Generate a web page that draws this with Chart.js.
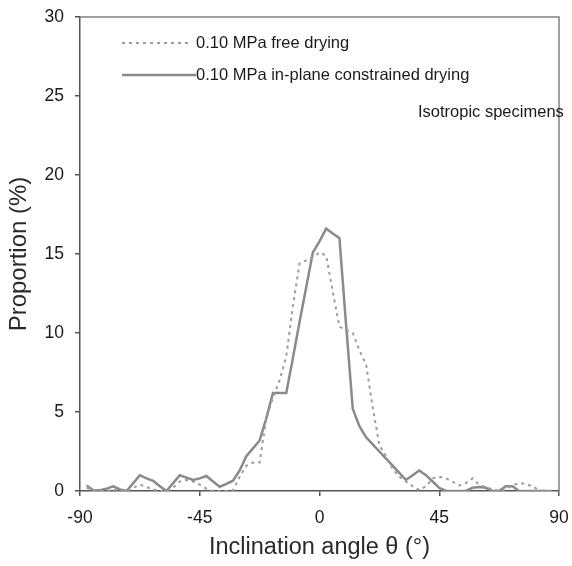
<!DOCTYPE html>
<html>
<head>
<meta charset="utf-8">
<script src="https://cdn.jsdelivr.net/npm/chart.js@4.4.0/dist/chart.umd.min.js"></script>
<style>
  html, body { margin: 0; padding: 0; background: #fff; }
  #wrap { width: 572px; height: 566px; }
</style>
</head>
<body>
<div id="wrap"><canvas id="chart" width="572" height="566"></canvas></div>
<script>
// Inclination angle bins (deg)
const angles = [
  -87.5, -85, -82.5, -80, -77.5, -75, -72.5, -70, -67.5, -65, -62.5, -60,
  -57.5, -55, -52.5, -50, -47.5, -45, -42.5, -40, -37.5, -35, -32.5, -30,
  -27.5, -25, -22.5, -20, -17.5, -15, -12.5, -10, -7.5, -5, -2.5, 0,
  2.5, 5, 7.5, 10, 12.5, 15, 17.5, 20, 22.5, 25, 27.5, 30,
  32.5, 35, 37.5, 40, 42.5, 45, 47.5, 50, 52.5, 55, 57.5, 60,
  62.5, 65, 67.5, 70, 72.5, 75, 77.5, 80, 82.5, 85, 87.5
];

// 0.10 MPa free drying (dotted)
const freeDrying = [
  0.2, 0.05, 0, 0, 0.1, 0, 0, 0.2, 0.4, 0.25, 0.1, 0,
  0, 0.2, 0.6, 0.7, 0.6, 0.4, 0.15, 0, 0, 0, 0.05, 0.9,
  1.6, 1.8, 1.8, 4.6, 5.9, 7.0, 8.5, 11.7, 14.4, 14.6, 14.8, 15.1,
  14.9, 12.6, 10.4, 10.2, 10.0, 8.9, 8.0, 5.3, 2.9, 2.2, 1.4, 0.9,
  0.6, 0.3, 0.05, 0.3, 0.8, 0.9, 0.8, 0.6, 0.35, 0.5, 0.8, 0.4,
  0.25, 0.1, 0, 0.1, 0.35, 0.5, 0.45, 0.3, 0.05, 0, 0
];

// 0.10 MPa in-plane constrained drying (solid)
const constrainedDrying = [
  0.35, 0.05, 0.05, 0.15, 0.3, 0.1, 0, 0.5, 1.0, 0.8, 0.65, 0.3,
  0, 0.5, 1.0, 0.85, 0.7, 0.8, 0.95, 0.6, 0.27, 0.45, 0.65, 1.3,
  2.2, 2.7, 3.2, 4.6, 6.2, 6.2, 6.2, 8.4, 10.7, 12.9, 15.1, 15.8,
  16.6, 16.3, 16.0, 10.5, 5.2, 4.1, 3.4, 2.95, 2.5, 2.05, 1.6, 1.15,
  0.7, 1.0, 1.3, 1.0, 0.6, 0.2, 0, 0, 0, 0, 0.2, 0.25,
  0.2, 0, 0, 0.3, 0.3, 0, 0, 0, 0, 0, 0
];

const xTicks = [-90, -45, 0, 45, 90];
const seriesLabels = ['0.10 MPa free drying', '0.10 MPa in-plane constrained drying'];
const noteText = 'Isotropic specimens';

const FONT = "'Liberation Sans', Arial, sans-serif";
const LINE_GRAY = '#8a8a8a';
const DOT_GRAY = '#9c9c9c';

function toPoints(values) {
  return angles.map((a, i) => ({ x: a, y: values[i] }));
}

// keep tick labels from pushing the plot area inwards
function noScalePadding(scale) {
  scale.paddingLeft = 0;
  scale.paddingRight = 0;
  scale.paddingTop = 0;
  scale.paddingBottom = 0;
}

// frame, in-plot legend and note
const extrasPlugin = {
  id: 'extras',
  afterDraw(chart) {
    const ctx = chart.ctx;
    const area = chart.chartArea;
    ctx.save();
    ctx.strokeStyle = '#808080';
    ctx.lineWidth = 1.5;
    ctx.beginPath();
    ctx.moveTo(area.left, area.top);
    ctx.lineTo(area.right, area.top);
    ctx.lineTo(area.right, area.bottom);
    ctx.stroke();

    const ds = chart.data.datasets;
    const rows = [43, 75];
    ctx.font = '16.5px ' + FONT;
    ctx.fillStyle = '#1a1a1a';
    ctx.textBaseline = 'middle';
    ds.forEach((d, i) => {
      ctx.beginPath();
      ctx.strokeStyle = d.borderColor;
      ctx.lineWidth = d.borderWidth;
      ctx.setLineDash(d.borderDash || []);
      ctx.moveTo(122, rows[i]);
      ctx.lineTo(i === 0 ? 190 : 196, rows[i]);
      ctx.stroke();
      ctx.setLineDash([]);
      ctx.fillText(d.label, 196, rows[i]);
    });
    ctx.fillText(noteText, 418, 112);
    ctx.restore();
  }
};

new Chart(document.getElementById('chart'), {
  type: 'line',
  data: {
    datasets: [
      {
        label: seriesLabels[0],
        data: toPoints(freeDrying),
        borderColor: DOT_GRAY,
        borderWidth: 2,
        borderDash: [3, 4],
        pointRadius: 0,
        tension: 0
      },
      {
        label: seriesLabels[1],
        data: toPoints(constrainedDrying),
        borderColor: LINE_GRAY,
        borderWidth: 2.5,
        pointRadius: 0,
        tension: 0
      }
    ]
  },
  options: {
    responsive: false,
    animation: false,
    layout: { padding: { top: 17, right: 13, left: 0, bottom: 0 } },
    plugins: {
      legend: { display: false },
      tooltip: { enabled: false }
    },
    scales: {
      x: {
        type: 'linear',
        min: -90,
        max: 90,
        afterBuildTicks(scale) {
          scale.ticks = xTicks.map(v => ({ value: v }));
        },
        afterFit(scale) {
          scale.height = 75;
          noScalePadding(scale);
        },
        ticks: { font: { family: FONT, size: 17.5 }, color: '#1a1a1a', padding: 12 },
        grid: { drawOnChartArea: false, tickLength: 5, color: '#555', lineWidth: 1.5 },
        border: { color: '#555', width: 1.5 },
        title: {
          display: true,
          text: 'Inclination angle θ (°)',
          font: { family: FONT, size: 23.5 },
          color: '#2a2a2a',
          padding: { top: 0 }
        }
      },
      y: {
        min: 0,
        max: 30,
        ticks: { stepSize: 5, font: { family: FONT, size: 17.5 }, color: '#1a1a1a', padding: 11 },
        afterFit(scale) {
          scale.width = 80;
          noScalePadding(scale);
        },
        grid: { drawOnChartArea: false, tickLength: 5, color: '#555', lineWidth: 1.5 },
        border: { color: '#555', width: 1.5 },
        title: {
          display: true,
          text: 'Proportion (%)',
          font: { family: FONT, size: 24 },
          color: '#2a2a2a',
          padding: { top: 5, bottom: 4 }
        }
      }
    }
  },
  plugins: [extrasPlugin]
});
</script>
</body>
</html>
